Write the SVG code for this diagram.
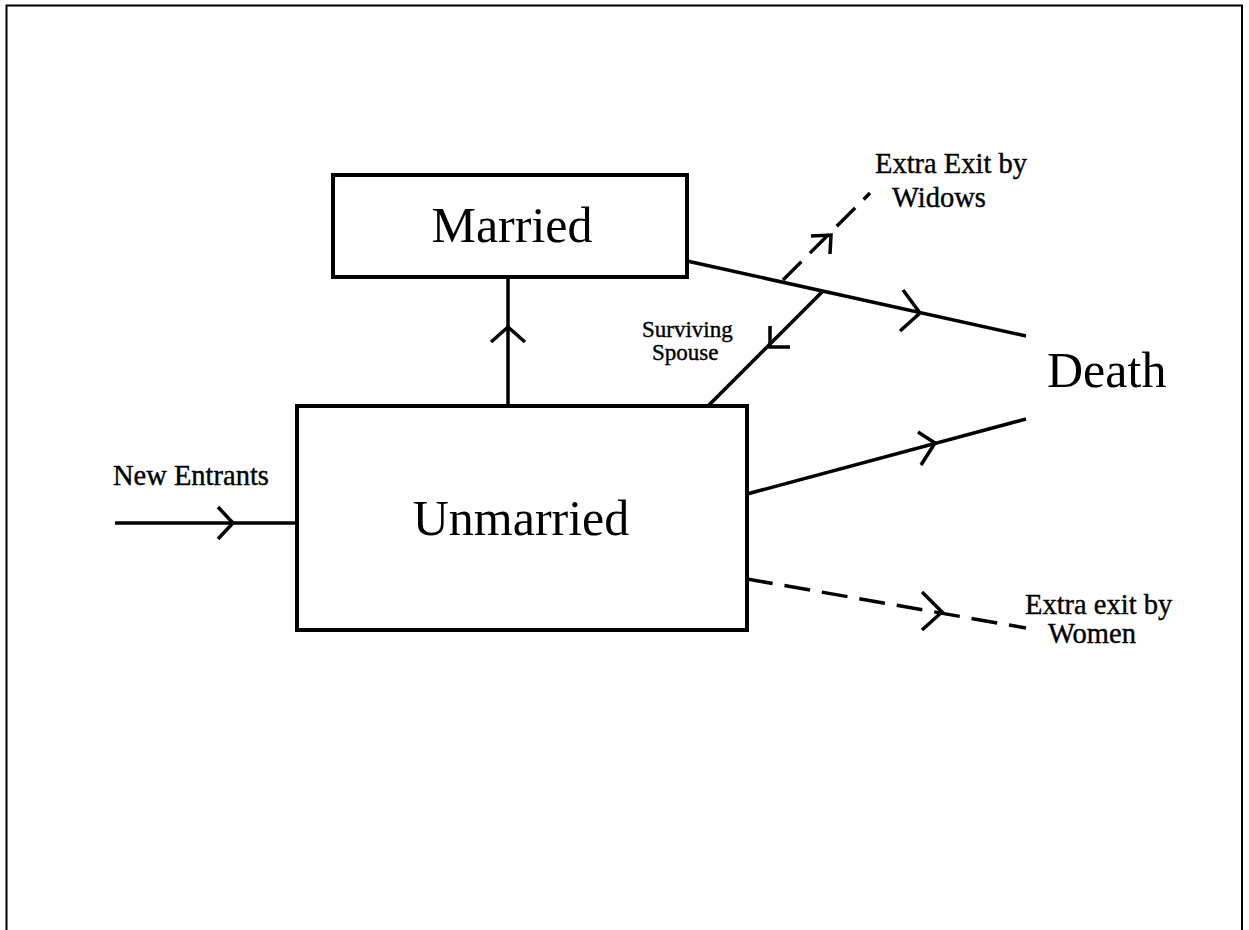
<svg xmlns="http://www.w3.org/2000/svg" width="1249" height="930" viewBox="0 0 1249 930">
<style>
.box{fill:#fff;stroke:#000;stroke-width:4}
.ln{fill:none;stroke:#000;stroke-width:3.5;stroke-linecap:butt}
.dash{stroke-dasharray:26 12}
.ah{fill:none;stroke:#000;stroke-width:3.5;stroke-linejoin:miter}
.big{font-family:"Liberation Serif","Times New Roman",serif;font-size:50px;fill:#000}
.sm{font-family:"Liberation Serif","Times New Roman",serif;font-size:28.5px;fill:#000;stroke:#000;stroke-width:0.4}
.xs{font-family:"Liberation Serif","Times New Roman",serif;font-size:23px;fill:#000;stroke:#000;stroke-width:0.4}
</style>
<rect width="1249" height="930" fill="#fff"/>
<path d="M6.5,930 V5.5 H1242 V930" fill="none" stroke="#000" stroke-width="2"/>
<g id="connectors">
  <g id="new-entrants-edge">
    <line class="ln" x1="115" y1="523" x2="297" y2="523"/>
    <polyline class="ah" points="218,507 233,523 218,539"/>
  </g>
  <g id="marry-edge">
    <line class="ln" x1="508" y1="406" x2="508" y2="277"/>
    <polyline class="ah" points="491,342 508,327 525,342"/>
  </g>
  <g id="married-death-edge">
    <line class="ln" x1="687" y1="261" x2="1026" y2="336"/>
    <polyline class="ah" points="903,290 920,313 900,331"/>
  </g>
  <g id="surviving-spouse-edge">
    <line class="ln" x1="707" y1="407" x2="823" y2="291"/>
    <polyline class="ah" points="770,326 770,347 790,347"/>
  </g>
  <g id="widows-edge">
    <line class="ln dash" x1="783" y1="280" x2="870" y2="193"/>
    <polyline class="ah" points="811,236 831,235 830,254"/>
  </g>
  <g id="unmarried-death-edge">
    <line class="ln" x1="747" y1="494" x2="1026" y2="419"/>
    <polyline class="ah" points="918,432 935,443 921,465"/>
  </g>
  <g id="women-edge">
    <line class="ln dash" x1="747" y1="579" x2="1026" y2="628"/>
    <polyline class="ah" points="922,592 942,612 922,630"/>
  </g>
</g>
<g id="married">
  <rect class="box" x="333" y="175" width="354" height="102"/>
  <text class="big" x="512" y="242" text-anchor="middle">Married</text>
</g>
<g id="unmarried">
  <rect class="box" x="297" y="406" width="450" height="224"/>
  <text class="big" x="521" y="535" text-anchor="middle">Unmarried</text>
</g>
<g id="death">
  <text class="big" x="1047" y="387">Death</text>
</g>
<g id="labels">
  <text class="sm" x="113" y="485">New Entrants</text>
  <text class="sm" x="875" y="173">Extra Exit by</text>
  <text class="sm" x="892" y="207">Widows</text>
  <text class="xs" x="642" y="337">Surviving</text>
  <text class="xs" x="652" y="360">Spouse</text>
  <text class="sm" x="1025" y="614">Extra exit by</text>
  <text class="sm" x="1048" y="643">Women</text>
</g>
</svg>
